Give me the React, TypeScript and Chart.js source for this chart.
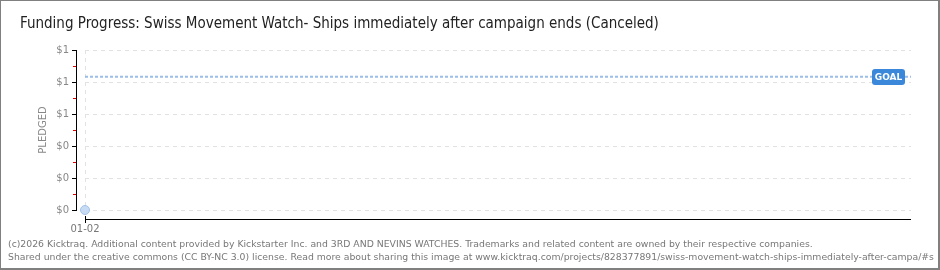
import React, { useEffect, useRef } from 'react';
import { Chart, registerables } from 'chart.js';

Chart.register(...registerables);

const chartTitle = 'Funding Progress: Swiss Movement Watch- Ships immediately after campaign ends (Canceled)';
const dayLabels = ['01-02'];
const dayIndex = [0];
const pledgedValues = [0];
const goalValue = 1;
const campaignDays = 30;
const yTickValues = [0, 0.24, 0.48, 0.72, 0.96, 1.2];
const footerLines = [
  '(c)2026 Kicktraq. Additional content provided by Kickstarter Inc. and 3RD AND NEVINS WATCHES. Trademarks and related content are owned by their respective companies.',
  'Shared under the creative commons (CC BY-NC 3.0) license. Read more about sharing this image at www.kicktraq.com/projects/828377891/swiss-movement-watch-ships-immediately-after-campa/#s',
];

export default function App() {
  const ref = useRef<HTMLCanvasElement>(null);

  useEffect(() => {
    if (!ref.current) return;
    const axesPlugin = {
      id: 'kAxes',
      afterDraw(chart: any) {
        const { ctx, chartArea, scales } = chart;
        const ys = scales.y;
        const xs = scales.x;
        ctx.save();
        ctx.setLineDash([]);
        ctx.globalAlpha = 1;
        const ax = Math.round(chartArea.left) - 9;
        const yTop = Math.round(ys.getPixelForValue(yTickValues[yTickValues.length - 1]));
        const yBot = Math.round(ys.getPixelForValue(0));
        ctx.fillStyle = '#000000';
        ctx.fillRect(ax, yTop, 1, yBot - yTop + 1);
        yTickValues.forEach((v, i) => {
          const py = Math.round(ys.getPixelForValue(v));
          ctx.fillStyle = '#000000';
          ctx.fillRect(ax - 4, py, 4, 1);
          if (i < yTickValues.length - 1) {
            const mid = Math.round(ys.getPixelForValue((v + yTickValues[i + 1]) / 2));
            ctx.fillStyle = '#e00000';
            ctx.fillRect(ax - 3, mid, 3, 1);
          }
        });
        // x axis
        const ay = Math.round(chartArea.bottom) + 9;
        const x0 = Math.round(xs.getPixelForValue(0));
        ctx.fillStyle = '#000000';
        ctx.fillRect(x0, ay, Math.round(chartArea.right) - x0, 1);
        ctx.fillRect(x0, ay - 3, 1, 7);
        // goal label
        const gy = Math.round(ys.getPixelForValue(goalValue));
        const rx = chartArea.right - 39;
        const rw = 33;
        const rh = 16;
        ctx.fillStyle = '#3b87d9';
        ctx.beginPath();
        (ctx as any).roundRect(rx, gy - 8, rw, rh, 3);
        ctx.fill();
        ctx.fillStyle = '#ffffff';
        ctx.font = 'bold 9px "DejaVu Sans"';
        ctx.textAlign = 'center';
        ctx.textBaseline = 'middle';
        ctx.fillText('GOAL', rx + rw / 2, gy + 0.5);
        ctx.restore();
      },
    };

    const chart = new Chart(ref.current, {
      type: 'scatter',
      data: {
        datasets: [
          {
            type: 'line',
            label: 'Goal',
            data: [
              { x: 0, y: goalValue },
              { x: campaignDays, y: goalValue },
            ],
            borderColor: '#9cbde7',
            borderWidth: 2,
            borderDash: [3, 2],
            pointRadius: 0,
            fill: false,
          } as any,
          {
            label: 'Pledged',
            data: dayIndex.map((d, i) => ({ x: d, y: pledgedValues[i] })),
            backgroundColor: '#c7dbf4',
            borderColor: '#a3c1e8',
            borderWidth: 1,
            pointRadius: 4.5,
            clip: false,
          } as any,
        ],
      },
      options: {
        responsive: false,
        animation: false,
        layout: { padding: { left: 0, top: 50, right: 29, bottom: 0 } },
        plugins: {
          legend: { display: false },
          tooltip: { enabled: false },
          title: { display: false },
        },
        scales: {
          x: {
            type: 'linear',
            min: 0,
            max: campaignDays,
            afterFit(s: any) {
              s.height = 60;
            },
            afterBuildTicks(s: any) {
              s.ticks = dayIndex.map((v) => ({ value: v }));
            },
            ticks: {
              padding: 13,
              maxRotation: 0,
              color: '#777',
              font: { family: '"DejaVu Sans"', size: 10 },
              callback: (v: any) => {
                const i = dayIndex.indexOf(Number(v));
                return i >= 0 ? dayLabels[i] : '';
              },
            },
            grid: { color: '#e2e2e2', lineWidth: 1, drawTicks: false },
            border: { display: false, dash: [4, 4] },
          },
          y: {
            type: 'linear',
            min: 0,
            max: yTickValues[yTickValues.length - 1],
            afterFit(s: any) {
              s.width = 85;
            },
            afterBuildTicks(s: any) {
              s.ticks = yTickValues.map((v) => ({ value: v }));
            },
            ticks: {
              padding: 16,
              color: '#888',
              font: { family: '"DejaVu Sans"', size: 10 },
              callback: (v: any) => '$' + Math.round(Number(v)),
            },
            grid: { color: '#e2e2e2', lineWidth: 1, drawTicks: false },
            border: { display: false, dash: [4, 4] },
            title: {
              display: true,
              text: 'PLEDGED',
              color: '#888',
              font: { family: '"DejaVu Sans"', size: 10 },
              padding: { top: 37, bottom: 0 },
            },
          },
        },
      },
      plugins: [axesPlugin],
    });
    return () => chart.destroy();
  }, []);

  return (
    <div style={{ position: 'absolute', left: 0, top: 0, width: 940, height: 270, background: '#fff', overflow: 'hidden' }}>
      <canvas ref={ref} width={940} height={270} style={{ position: 'absolute', left: 0, top: 0, width: 940, height: 270 }} />
      <div
        style={{
          position: 'absolute',
          left: 20,
          top: 12,
          fontFamily: '"Liberation Sans Narrow", "DejaVu Sans Condensed", sans-serif',
          fontSize: 15,
          color: '#222',
          whiteSpace: 'nowrap',
          lineHeight: '22px',
        }}
      >
        {chartTitle}
      </div>
      {footerLines.map((t, i) => (
        <div
          key={i}
          style={{
            position: 'absolute',
            left: 8,
            top: 237 + i * 13,
            fontFamily: '"DejaVu Sans", Verdana, sans-serif',
            fontSize: 9.3,
            color: '#777',
            whiteSpace: 'nowrap',
            lineHeight: '13px',
          }}
        >
          {t}
        </div>
      ))}
      <div
        style={{
          position: 'absolute',
          left: 0,
          top: 0,
          width: 940,
          height: 270,
          boxSizing: 'border-box',
          borderStyle: 'solid',
          borderColor: '#808080',
          borderWidth: '1px 2px 2px 1px',
          pointerEvents: 'none',
        }}
      />
    </div>
  );
}
